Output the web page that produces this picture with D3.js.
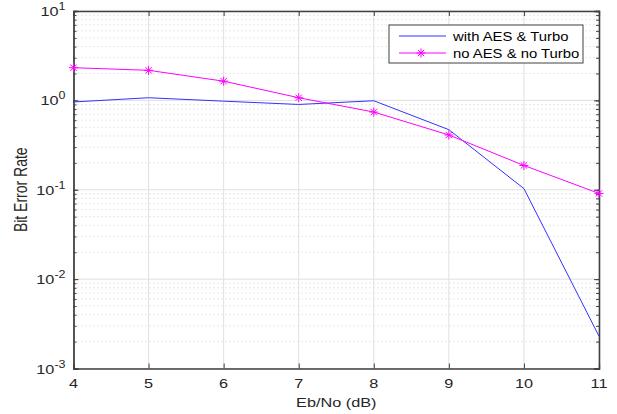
<!DOCTYPE html>
<html><head><meta charset="utf-8">
<script src="https://cdn.jsdelivr.net/npm/d3@7"></script>
<style>body{margin:0;background:#fff}svg{display:block}text{font-family:"Liberation Sans",Arial,sans-serif}</style>
</head><body>
<svg id="c" width="617" height="414"></svg>
<script>
const ebno = [4,5,6,7,8,9,10,11];
const withAesTurbo = [0.96,1.07,0.98,0.90,0.99,0.47,0.103,0.0023];
const noAesNoTurbo = [2.32,2.17,1.64,1.07,0.74,0.41,0.187,0.091];
const xTicks = [4,5,6,7,8,9,10,11];
const yDecades = [-3,-2,-1,0,1];
const seriesNames = ["with AES & Turbo","no AES & no Turbo"];
const colors = ["#3333ff","#ff00ff"];

const svg = d3.select("#c");
const L=73.5,R=599,T=11,B=368.5;
const SX=1.25;
const x = d3.scaleLinear().domain([4,11]).range([L,R]);
const y = d3.scaleLog().domain([1e-3,10]).range([B,T]);
svg.append("rect").attr("width",617).attr("height",414).attr("fill","#fff");

// minor grid
const g = svg.append("g");
yDecades.slice(0,-1).forEach(d=>{
  for(let m=2;m<=9;m++){
    const v=m*Math.pow(10,d);
    g.append("line").attr("x1",L).attr("x2",R).attr("y1",y(v)).attr("y2",y(v))
     .attr("stroke","#d0d0d0").attr("stroke-width",1).attr("stroke-dasharray","1,3");
  }
});
// major grid
xTicks.forEach(t=>g.append("line").attr("x1",x(t)).attr("x2",x(t)).attr("y1",T).attr("y2",B).attr("stroke","#e0e0e0"));
yDecades.forEach(d=>g.append("line").attr("x1",L).attr("x2",R).attr("y1",y(Math.pow(10,d))).attr("y2",y(Math.pow(10,d))).attr("stroke","#e0e0e0"));

// axes
const xa = svg.append("g").attr("transform",`translate(0,${B})`)
 .call(d3.axisBottom(x).tickValues(xTicks).tickSize(-5).tickFormat(""));
const xt = svg.append("g").attr("transform",`translate(0,${T})`)
 .call(d3.axisTop(x).tickValues(xTicks).tickSize(-5).tickFormat(""));
const minorVals=[];
yDecades.slice(0,-1).forEach(d=>{for(let m=1;m<=9;m++)minorVals.push(m*Math.pow(10,d));});
minorVals.push(10);
const ya = svg.append("g").attr("transform",`translate(${L},0)`)
 .call(d3.axisLeft(y).tickValues(minorVals).tickSize(-3).tickFormat(""));
const yr = svg.append("g").attr("transform",`translate(${R},0)`)
 .call(d3.axisRight(y).tickValues(minorVals).tickSize(-3).tickFormat(""));
const yMaj = svg.append("g").attr("transform",`translate(${L},0)`)
 .call(d3.axisLeft(y).tickValues(yDecades.map(d=>Math.pow(10,d))).tickSize(-5).tickFormat(""));
const yMajR = svg.append("g").attr("transform",`translate(${R},0)`)
 .call(d3.axisRight(y).tickValues(yDecades.map(d=>Math.pow(10,d))).tickSize(-5).tickFormat(""));
[xa,xt,ya,yr,yMaj,yMajR].forEach(a=>{a.selectAll(".domain").attr("stroke","#404040").attr("stroke-width",1.3);a.selectAll(".tick line").attr("stroke","#404040");});

function stext(px,py,anchor,size,str){
  return svg.append("text").attr("transform",`translate(${px},${py}) scale(${SX},1)`)
    .attr("text-anchor",anchor).attr("font-size",size).attr("fill","#262626").text(str);
}
// x tick labels
xTicks.forEach(t=>stext(x(t),388,"middle",13,d3.format("d")(t)));

// y tick labels with superscripts
yDecades.forEach(d=>{
  const t = svg.append("text").attr("transform",`translate(${L-8},${y(Math.pow(10,d))+5}) scale(${SX},1)`)
   .attr("text-anchor","end").attr("fill","#262626").attr("font-size",13);
  t.append("tspan").text("10");
  t.append("tspan").attr("dy",-6).attr("font-size",10).text(String(d));
});

// lines
const line = d3.line().x((d,i)=>x(ebno[i])).y(d=>y(d));
svg.append("path").datum(withAesTurbo).attr("d",line).attr("fill","none").attr("stroke",colors[0]).attr("stroke-width",1);
svg.append("path").datum(noAesNoTurbo).attr("d",line).attr("fill","none").attr("stroke",colors[1]).attr("stroke-width",1);
function star(gs,cx,cy,r){
  for(let k=0;k<4;k++){const a=k*Math.PI/4;
    gs.append("line").attr("x1",cx-r*Math.cos(a)).attr("y1",cy-r*Math.sin(a)).attr("x2",cx+r*Math.cos(a)).attr("y2",cy+r*Math.sin(a)).attr("stroke",colors[1]).attr("stroke-width",1);}
}
const sg = svg.append("g");
noAesNoTurbo.forEach((v,i)=>star(sg,x(ebno[i]),y(v),4.5));

// labels
stext((L+R)/2,407,"middle",13,"Eb/No (dB)");
svg.append("text").attr("transform",`translate(27,${(T+B)/2}) rotate(-90) scale(1,${SX})`).attr("text-anchor","middle").attr("font-size",14).attr("fill","#262626").text("Bit Error Rate");

// legend
const lg = svg.append("g");
lg.append("rect").attr("x",389).attr("y",25).attr("width",194).attr("height",38).attr("fill","#fff").attr("stroke","#404040").attr("stroke-width",1);
seriesNames.forEach((n,i)=>{
  const yy=36+i*17;
  lg.append("line").attr("x1",399).attr("x2",446).attr("y1",yy).attr("y2",yy).attr("stroke",colors[i]).attr("stroke-width",1);
  if(i===1) star(lg,421,yy,4.5);
  lg.append("text").attr("transform",`translate(453,${yy+4.5}) scale(${SX*0.95},1)`).attr("font-size",12.5).attr("fill","#000").text(n);
});
</script>
</body></html>
